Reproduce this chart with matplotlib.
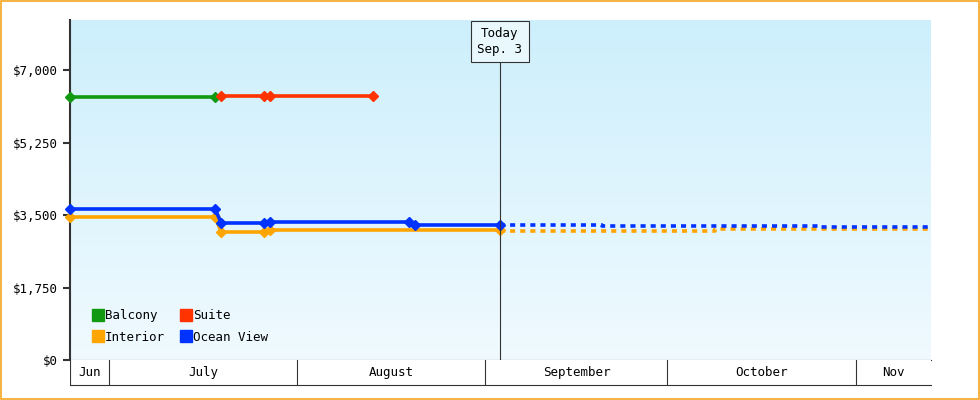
import matplotlib
matplotlib.use("Agg")
import matplotlib.pyplot as plt
import numpy as np
from matplotlib.lines import Line2D
from matplotlib.colors import LinearSegmentedColormap

# days since May 31 (Jul 1 = 30)
balcony_x = [23.6, 47.5]
balcony_y = [6348, 6348]
suite_x = [48.5, 55.6, 56.6, 73.5]
suite_y = [6372, 6372, 6372, 6372]
ocean_x = [23.6, 47.5, 48.5, 55.6, 56.6, 79.4, 80.4, 94.4]
ocean_y = [3645, 3645, 3307, 3307, 3331, 3331, 3259, 3259]
interior_x = [23.6, 47.5, 48.5, 55.6, 56.6, 94.4]
interior_y = [3452, 3452, 3090, 3090, 3138, 3138]
ocean_fx = [94.4, 111.2, 111.2, 147.2, 147.2, 165.4]
ocean_fy = [3259, 3259, 3235, 3235, 3210, 3210]
interior_fx = [94.4, 129.9, 129.9, 165.4]
interior_fy = [3114, 3114, 3162, 3162]
months = ["Jun", "July", "August", "September", "October", "Nov"]
month_edges = [23.6, 30, 61, 92, 122, 153, 165.4]
yticks = [0, 1750, 3500, 5250, 7000]
today_x = 94.4

mono = "DejaVu Sans Mono"
fs = 9
fig = plt.figure(figsize=(9.8, 4), dpi=100)
fig.patch.set_facecolor("white")
fig.add_artist(plt.Rectangle((0.001, 0.002), 0.998, 0.996, transform=fig.transFigure,
                             fill=False, edgecolor="#f5a623", lw=1.2))
ax = fig.add_axes([70/980, 40/400, 861/980, 340/400])
x0, x1 = 23.6, 165.4
ymax = 8207
ax.set_xlim(x0, x1); ax.set_ylim(0, ymax)
grad = np.linspace(0, 1, 256).reshape(-1, 1)
cm = LinearSegmentedColormap.from_list("g", ["#f0faff", "#cdeffc"])
ax.imshow(grad, aspect="auto", cmap=cm, extent=[x0, x1, 0, ymax], origin="lower", zorder=0)

kw = dict(lw=2.6, marker="D", ms=5, clip_on=False)
ax.plot(balcony_x, balcony_y, color="#119911", zorder=3, **kw)
ax.plot(suite_x, suite_y, color="#ff3300", zorder=3, **kw)
ax.plot(interior_x, interior_y, color="#ffa500", zorder=3, **kw)
ax.plot(ocean_x, ocean_y, color="#0033ff", zorder=4, **kw)
ax.plot(interior_fx, interior_fy, color="#ffa500", lw=2.6, ls=(0, (1.4, 1.4)), zorder=3)
ax.plot(ocean_fx, ocean_fy, color="#0033ff", lw=2.6, ls=(0, (1.4, 1.4)), zorder=3)

ax.axvline(today_x, color="#333333", lw=0.8, ymax=(360-61)/340, zorder=5)
ax.text(today_x, ymax - 170, "Today\nSep. 3", ha="center", va="top", family=mono, fontsize=fs,
        linespacing=1.3,
        bbox=dict(boxstyle="square,pad=0.5", fc="#e8f8fd", ec="#333333", lw=0.8), zorder=6)

ax.set_yticks(yticks)
ax.set_yticklabels([f"${v:,}" for v in yticks], family=mono, fontsize=fs)
ax.tick_params(axis="y", length=5, width=1.5, color="#333333")
ax.set_xticks([])
for s in ["top", "right"]:
    ax.spines[s].set_visible(False)
ax.spines["left"].set_linewidth(1.5); ax.spines["left"].set_color("#333333")
ax.spines["bottom"].set_color("#333333")

handles = [Line2D([], [], ls="", marker="s", ms=8, color=c) for c in ["#119911", "#ffa500", "#ff3300", "#0033ff"]]
ax.legend(handles, ["Balcony", "Interior", "Suite", "Ocean View"], ncol=2, loc="lower left",
          bbox_to_anchor=(0.015, 0.015), frameon=False, prop={"family": mono, "size": fs},
          handlelength=0.6, handletextpad=0.25, columnspacing=1.4, labelspacing=0.7)

bx = fig.add_axes([70/980, 15/400, 861/980, 25/400])
bx.set_xlim(x0, x1); bx.set_ylim(0, 1)
bx.set_xticks([]); bx.set_yticks([])
for s in ["top", "right", "left"]:
    bx.spines[s].set_visible(False)
bx.spines["bottom"].set_color("#333333")
for e in month_edges[:-1]:
    bx.axvline(e, color="#333333", lw=0.8)
for i, m in enumerate(months):
    bx.text((month_edges[i] + month_edges[i+1]) / 2, 0.5, m, ha="center", va="center",
            family=mono, fontsize=fs)

fig.savefig("out.png", dpi=100)
